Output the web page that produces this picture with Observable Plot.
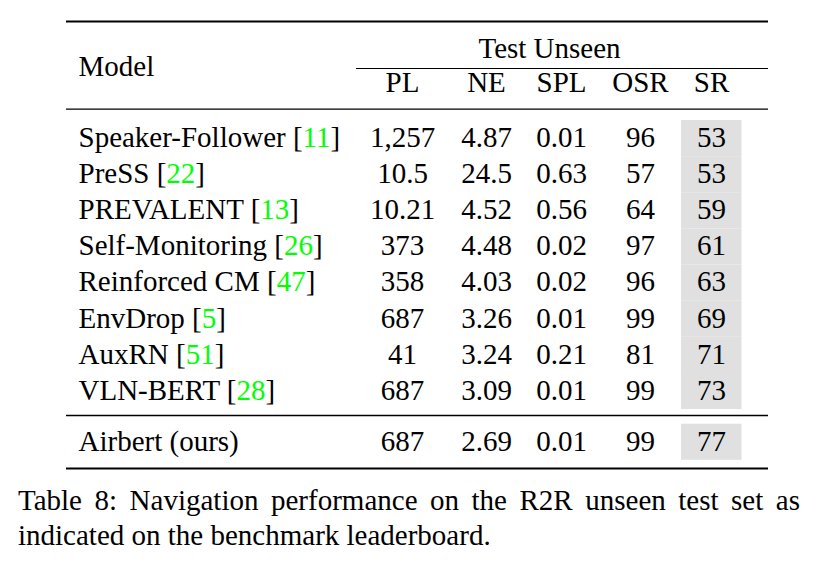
<!DOCTYPE html>
<html>
<head>
<meta charset="utf-8">
<script src="https://cdn.jsdelivr.net/npm/d3@7"></script>
<script src="https://cdn.jsdelivr.net/npm/@observablehq/plot@0.6"></script>
<style>
  html, body { margin: 0; padding: 0; background: #fff; }
  #chart svg { display: block; }
  #caption {
    font-family: "Liberation Serif", "Times New Roman", serif;
    font-size: 29px;
    line-height: 35px;
    color: #000;
    width: 782px;
    margin: 1px 0 0 18px;
    text-align: justify;
  }
</style>
</head>
<body>
<div id="chart"></div>
<div id="caption"></div>
<script>
// ---- data ----
const models = ["Speaker-Follower", "PreSS", "PREVALENT", "Self-Monitoring", "Reinforced CM", "EnvDrop", "AuxRN", "VLN-BERT"];
const refs = [11, 22, 13, 26, 47, 5, 51, 28];
const columns = ["PL", "NE", "SPL", "OSR", "SR"];
const PL = [1257, 10.5, 10.21, 373, 358, 687, 41, 687];
const NE = [4.87, 24.5, 4.52, 4.48, 4.03, 3.26, 3.24, 3.09];
const SPL = [0.01, 0.63, 0.56, 0.02, 0.02, 0.01, 0.21, 0.01];
const OSR = [96, 57, 64, 97, 96, 99, 81, 99];
const SR = [53, 53, 59, 61, 63, 69, 71, 73];
const oursName = "Airbert (ours)";
const oursValues = [687, 2.69, 0.01, 99, 77];
const groupLabel = "Test Unseen";
const headerLabel = "Model";
const captionText = "Table 8: Navigation performance on the R2R unseen test set as indicated on the benchmark leaderboard.";

// ---- layout ----
const W = 822, H = 482;
const FONT = "Liberation Serif, Times New Roman, serif";
const FS = 29;
const tableLeft = 66, tableRight = 768;
const modelX = 78;
const colX = [402, 486, 561, 640, 711];
const firstBaseline = 146.3, pitch = 36.14;
const oursBaseline = 450;
const cellTop = 26.3, cellBottom = 9.8;
const shadeX1 = 681, shadeX2 = 741.5;

const fmt = d3.format(",");
const series = [PL, NE, SPL, OSR, SR];

const rows = models.map((m, i) => ({
  name: `${m} [${refs[i]}]`,
  y: firstBaseline + i * pitch,
  values: series.map(s => s[i])
}));
rows.push({name: oursName, y: oursBaseline, values: oursValues});

const cells = [];
rows.forEach(r => r.values.forEach((v, j) => cells.push({x: colX[j], y: r.y, text: fmt(v)})));
const names = rows.map(r => ({x: modelX, y: r.y, text: r.name}));
const shades = rows.map(r => ({x1: shadeX1, x2: shadeX2, y1: r.y - cellTop, y2: r.y + cellBottom}));
const heads = columns.map((c, j) => ({x: colX[j], y: 91.7, text: c}));

const rules = [
  {y: 21, x1: tableLeft, x2: tableRight, w: 2},
  {y: 68, x1: 356, x2: tableRight, w: 1.1},
  {y: 108.7, x1: tableLeft, x2: tableRight, w: 1.3},
  {y: 415, x1: tableLeft, x2: tableRight, w: 1.3},
  {y: 468, x1: tableLeft, x2: tableRight, w: 2}
];

const textOpts = {fontFamily: FONT, fontSize: FS, fill: "#000", lineAnchor: "bottom"};

const chart = Plot.plot({
  width: W,
  height: H,
  margin: 0,
  x: {type: "linear", domain: [0, W], range: [0, W], axis: null},
  y: {type: "linear", domain: [0, H], range: [0, H], axis: null},
  marks: [
    Plot.rect(shades, {x1: "x1", x2: "x2", y1: "y1", y2: "y2", fill: "#e0e0e0"}),
    Plot.ruleY(rules, {y: "y", x1: "x1", x2: "x2", stroke: "#000", strokeWidth: "w"}),
    Plot.text([{x: modelX, y: 75, text: headerLabel}], {x: "x", y: "y", text: "text", textAnchor: "start", ...textOpts}),
    Plot.text([{x: 549, y: 57, text: groupLabel}], {x: "x", y: "y", text: "text", textAnchor: "middle", ...textOpts}),
    Plot.text(heads, {x: "x", y: "y", text: "text", textAnchor: "middle", ...textOpts}),
    Plot.text(names, {x: "x", y: "y", text: "text", textAnchor: "start", ...textOpts}),
    Plot.text(cells, {x: "x", y: "y", text: "text", textAnchor: "middle", ...textOpts})
  ]
});

// colour the citation numbers green
d3.select(chart).selectAll("text").each(function () {
  const t = this.textContent;
  const m = t.match(/^(.*\[)(\d+)(\])$/);
  if (m) {
    const sel = d3.select(this);
    sel.text(null);
    sel.append("tspan").text(m[1]);
    sel.append("tspan").attr("fill", "#00ff00").text(m[2]);
    sel.append("tspan").text(m[3]);
  }
});

document.getElementById("chart").appendChild(chart);
document.getElementById("caption").textContent = captionText;
</script>
</body>
</html>
